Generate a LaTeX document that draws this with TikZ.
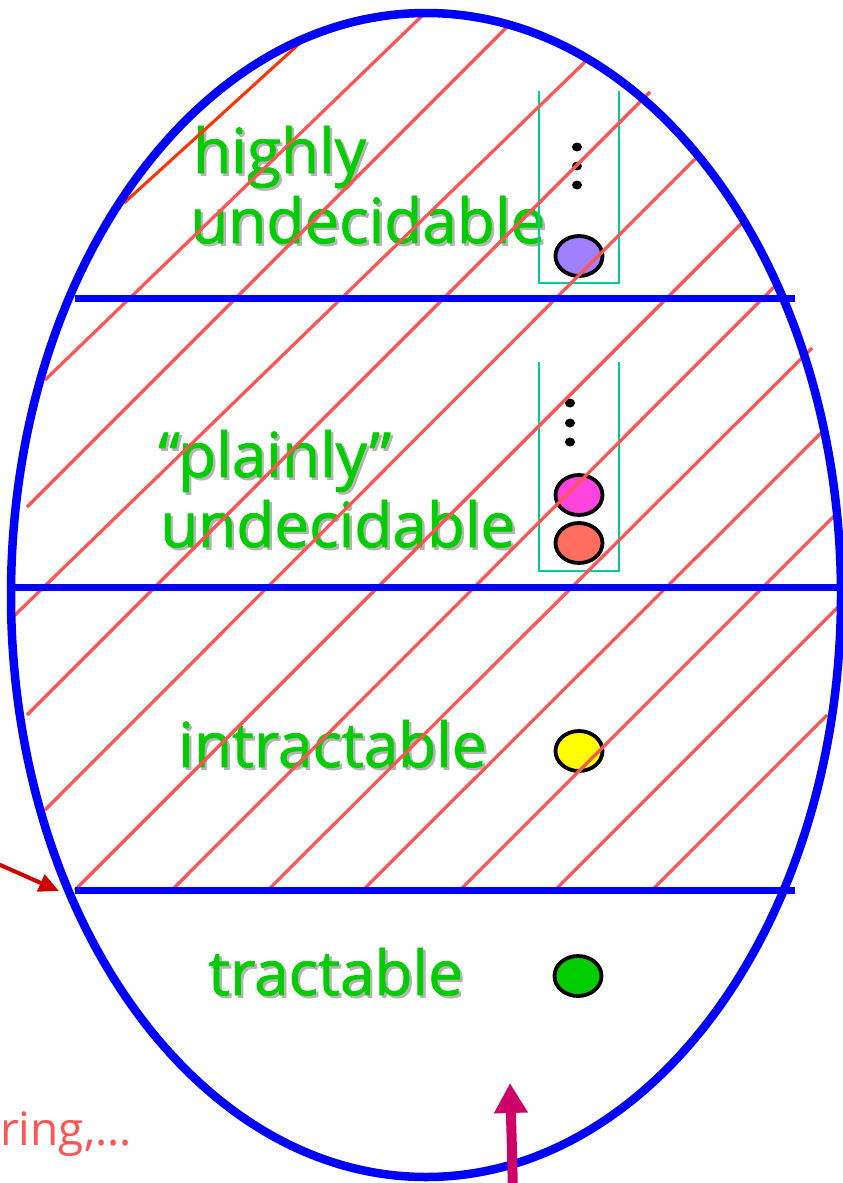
\documentclass[tikz,border=0pt]{standalone}
\usepackage{fontspec}
\setmainfont{Open Sans}
\newfontfamily\labelfamily[FakeBold=1.2]{Open Sans}
\usetikzlibrary{arrows.meta,shapes.geometric}
\definecolor{eggblue}{RGB}{0,0,255}
\definecolor{hatchred}{RGB}{255,85,85}
\definecolor{hatchorange}{RGB}{255,51,0}
\definecolor{labelgreen}{RGB}{0,204,0}
\definecolor{shadowgray}{RGB}{180,180,180}
\definecolor{boxteal}{RGB}{0,204,153}
\definecolor{arrowred}{RGB}{204,0,0}
\definecolor{arrowmagenta}{RGB}{204,0,102}
\definecolor{ballpurple}{RGB}{160,128,255}
\definecolor{ballpink}{RGB}{255,68,221}
\definecolor{ballsalmon}{RGB}{255,110,95}
\definecolor{ballyellow}{RGB}{255,255,0}
\definecolor{ballgreen}{RGB}{0,204,0}
\definecolor{notered}{RGB}{255,85,85}
\newcommand\biglabelfont{\labelfamily\fontsize{62}{62}\selectfont}
\newcommand\shlabel[4]{%
  \node[lblshadow] at ([xshift=2.5pt,yshift=-2.5pt]#2,#3) {#4};
  \node[lbl] (#1) at (#2,#3) {#4};}
\begin{document}
\begin{tikzpicture}[x=1pt,y=-1pt,
  lbl/.style={anchor=base west,inner sep=0pt,text=labelgreen,font=\biglabelfont},
  lblshadow/.style={anchor=base west,inner sep=0pt,text=shadowgray,font=\biglabelfont},
  hatchline/.style={draw=hatchred,line width=3.2pt},
  divider/.style={draw=eggblue,line width=7pt},
  stackbox/.style={draw=boxteal,line width=1.8pt},
  ball/.style={ellipse,draw=black,line width=3.8pt,minimum width=47pt,minimum height=40pt,inner sep=0pt},
  stackdot/.style={fill=black}]
\useasboundingbox (0,0) rectangle (843,1183);

% labels
\shlabel{highly}{193}{173}{highly}
\shlabel{und1}{190}{243}{undecidable}
\shlabel{plainly}{158}{477}{“plainly”}
\shlabel{und2}{160}{547}{undecidable}
\shlabel{intr}{178}{767}{intractable}
\shlabel{tract}{208}{995}{tractable}
\node[anchor=base west,inner sep=0pt,text=notered,font=\fontsize{46}{46}\selectfont] (note) at (0,1145) {ring,...};

% stacks
\draw[stackbox] (539,91) -- (539,283) -- (619,283) -- (619,91);
\draw[stackbox] (539,362) -- (539,571) -- (619,571) -- (619,362);
\foreach \yy in {147,166,185} \fill[stackdot] (577,\yy) ellipse [x radius=5pt, y radius=4.5pt];
\foreach \yy in {403,423,442} \fill[stackdot] (570,\yy) ellipse [x radius=5pt, y radius=4.5pt];
\node[ball,fill=ballpurple] (hu) at (579,256) {};
\node[ball,fill=ballpink] (pu1) at (579,495) {};
\node[ball,fill=ballsalmon] (pu2) at (579,543) {};
\node[ball,fill=ballyellow] (it) at (579,751) {};
\node[ball,fill=ballgreen] (tr) at (578,976) {};

% hatching
\draw[draw=hatchorange,line width=3pt] (124,203) -- (299,44);
\draw[hatchline] (45,380) -- (426,12);
\draw[hatchline] (27,507) -- (507,27);
\draw[hatchline] (15,615) -- (587,60);
\draw[hatchline] (27,715) -- (650,92);
\draw[hatchline] (45,810) -- (697,157);
\draw[hatchline] (75,890) -- (743,222);
\draw[hatchline] (172,890) -- (777,284);
\draw[hatchline] (268,890) -- (812,348);
\draw[hatchline] (363,890) -- (822,432);
\draw[hatchline] (460,890) -- (835,515);
\draw[hatchline] (555,890) -- (838,607);
\draw[hatchline] (652,890) -- (827,715);

% dividers and outline
\draw[divider] (75,298) -- (795,298);
\draw[divider] (10,587) -- (843,587);
\draw[divider] (75,890) -- (795,890);
\draw[draw=eggblue,line width=8.5pt] (426,595) ellipse [x radius=415pt, y radius=582pt];

% arrows
\coordinate (redtail) at (-2,864);
\coordinate (redtip) at (59,891);
\draw[arrowred,line width=4pt,-{Triangle[length=20pt,width=18pt]}] (redtail) -- (redtip);
\coordinate (magtail) at (513,1195);
\coordinate (magtip) at (510,1083);
\draw[arrowmagenta,line width=10pt,-{Triangle[length=30pt,width=32pt]}] (magtail) .. controls (512,1150) .. (magtip);
\end{tikzpicture}
\end{document}
